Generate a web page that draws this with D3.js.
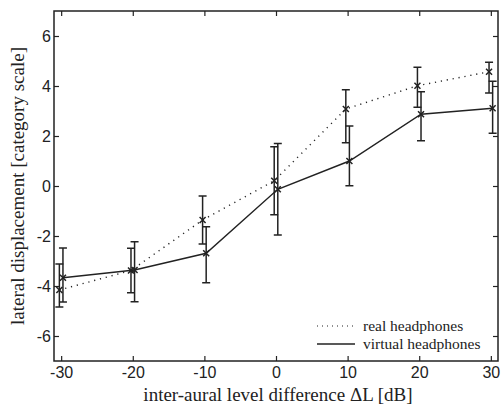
<!DOCTYPE html>
<html>
<head>
<meta charset="utf-8">
<script src="https://cdn.jsdelivr.net/npm/d3@7"></script>
<style>
body { margin: 0; background: #fff; }
svg { display: block; }
.tick text { font-family: "Liberation Sans", Arial, sans-serif; font-size: 16px; fill: #222; }
.lbl { font-family: "Liberation Serif", "Times New Roman", serif; font-size: 19px; fill: #222; }
.leg { font-family: "Liberation Serif", "Times New Roman", serif; font-size: 15.5px; fill: #222; }
</style>
</head>
<body>
<svg id="graph"></svg>
<script>
// inter-aural level difference [dB]
var levels = [-30, -20, -10, 0, 10, 20, 30]
var xTicks = [-30, -20, -10, 0, 10, 20, 30]
var yTicks = [-6, -4, -2, 0, 2, 4, 6]

// real headphones (dotted)
var realMean = [-4.16, -3.38, -1.36, 0.21, 3.08, 4.01, 4.57]
var realHi = [-3.12, -2.49, -0.40, 1.57, 3.85, 4.75, 4.95]
var realLo = [-4.84, -4.27, -2.32, -1.15, 1.73, 3.15, 3.72]

// virtual headphones (solid)
var virtMean = [-3.67, -3.36, -2.69, -0.13, 1.00, 2.87, 3.11]
var virtHi = [-2.48, -2.23, -1.63, 1.70, 2.40, 3.77, 4.19]
var virtLo = [-4.64, -4.63, -3.87, -1.96, 0.01, 1.81, 2.11]

var series = [
    {name: "real headphones", mean: realMean, hi: realHi, lo: realLo, dash: "1.2,4.8", shift: -0.25},
    {name: "virtual headphones", mean: virtMean, hi: virtHi, lo: virtLo, dash: null, shift: 0.25}
]

var screen = {width: 502, height: 407}
var box = {left: 54, right: 498, top: 11, bottom: 361}

var svg = d3.select("#graph")
    .attr("width", screen.width)
    .attr("height", screen.height)

var xScale = d3.scaleLinear().domain([-31, 31]).range([box.left, box.right])
var yScale = d3.scaleLinear().domain([-7, 7]).range([box.bottom, box.top])

var col = "#222"
var fmt = function (d) { return String(d) }   // plain hyphen, like the original

// axes, ticks pointing inward
svg.append("g")
    .attr("transform", "translate(0," + box.bottom + ")")
    .call(d3.axisBottom(xScale).tickValues(xTicks).tickFormat(fmt).tickSizeInner(-5).tickSizeOuter(0).tickPadding(6))
svg.append("g")
    .attr("transform", "translate(" + box.left + ",0)")
    .call(d3.axisLeft(yScale).tickValues(yTicks).tickFormat(fmt).tickSizeInner(-5).tickSizeOuter(0).tickPadding(3))
svg.append("g")
    .attr("transform", "translate(0," + box.top + ")")
    .call(d3.axisTop(xScale).tickValues(xTicks).tickSizeInner(-5).tickSizeOuter(0).tickFormat(""))
svg.append("g")
    .attr("transform", "translate(" + box.right + ",0)")
    .call(d3.axisRight(yScale).tickValues(yTicks).tickSizeInner(-5).tickSizeOuter(0).tickFormat(""))

svg.selectAll(".domain").remove()
svg.selectAll(".tick line").attr("stroke", col).attr("stroke-width", 1.2)
svg.selectAll(".tick text").attr("fill", col)

svg.append("rect")
    .attr("x", box.left).attr("y", box.top)
    .attr("width", box.right - box.left).attr("height", box.bottom - box.top)
    .attr("fill", "none").attr("stroke", col).attr("stroke-width", 1.5)

// data
series.forEach(function (s) {
    var pts = levels.map(function (l, i) {
        return {x: l + s.shift, y: s.mean[i], hi: s.hi[i], lo: s.lo[i]}
    })
    var g = svg.append("g")

    g.append("path")
        .datum(pts)
        .attr("fill", "none")
        .attr("stroke", col)
        .attr("stroke-width", 1.4)
        .attr("stroke-dasharray", s.dash)
        .attr("d", d3.line().x(function (d) { return xScale(d.x) }).y(function (d) { return yScale(d.y) }))

    var eb = g.selectAll(".eb").data(pts).enter().append("g")
    eb.append("line")
        .attr("x1", function (d) { return xScale(d.x) })
        .attr("x2", function (d) { return xScale(d.x) })
        .attr("y1", function (d) { return yScale(d.hi) })
        .attr("y2", function (d) { return yScale(d.lo) })
        .attr("stroke", col).attr("stroke-width", 1.5)
    ;["hi", "lo"].forEach(function (k) {
        eb.append("line")
            .attr("x1", function (d) { return xScale(d.x) - 4 })
            .attr("x2", function (d) { return xScale(d.x) + 4 })
            .attr("y1", function (d) { return yScale(d[k]) })
            .attr("y2", function (d) { return yScale(d[k]) })
            .attr("stroke", col).attr("stroke-width", 1.5)
    })
    // x markers
    eb.append("path")
        .attr("d", function (d) {
            var cx = xScale(d.x), cy = yScale(d.y), r = 3
            return "M" + (cx - r) + "," + (cy - r) + "L" + (cx + r) + "," + (cy + r) +
                "M" + (cx - r) + "," + (cy + r) + "L" + (cx + r) + "," + (cy - r)
        })
        .attr("stroke", col).attr("stroke-width", 1.5).attr("fill", "none")
})

// legend
var leg = svg.append("g")
series.forEach(function (s, i) {
    var y = 326 + i * 18
    leg.append("line")
        .attr("x1", 317).attr("x2", 355).attr("y1", y).attr("y2", y)
        .attr("stroke", col).attr("stroke-width", s.dash ? 1.2 : 1.4)
        .attr("stroke-dasharray", s.dash ? "1,4" : null)
    leg.append("text")
        .attr("class", "leg")
        .attr("x", 363).attr("y", y + 5)
        .text(s.name)
})

// axis labels
svg.append("text")
    .attr("class", "lbl")
    .attr("x", 278).attr("y", 401)
    .attr("text-anchor", "middle")
    .text("inter-aural level difference \u0394L [dB]")

svg.append("text")
    .attr("class", "lbl")
    .attr("transform", "translate(24," + yScale(0) + ") rotate(-90)")
    .attr("text-anchor", "middle")
    .text("lateral displacement [category scale]")
</script>
</body>
</html>
